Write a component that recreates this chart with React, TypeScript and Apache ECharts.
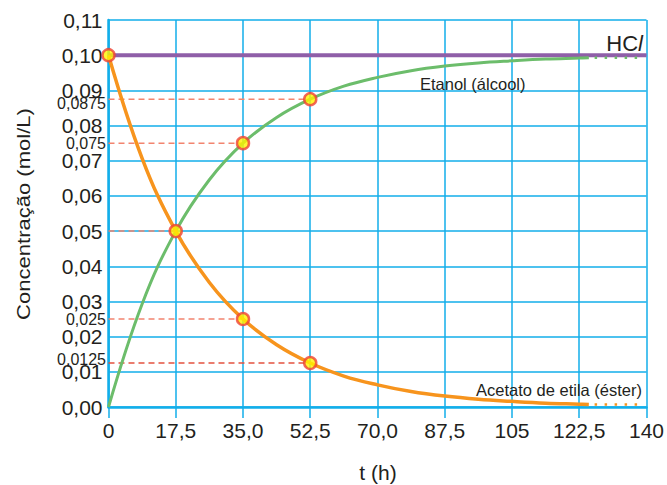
import React, { useEffect, useRef } from "react";
import * as echarts from "echarts";

// ---- data ----
const tHours = [0, 8.75, 17.5, 26.25, 35, 43.75, 52.5, 61.25, 70, 78.75, 87.5, 96.25, 105, 113.75, 122.5, 125];
const esterConc = [0.1, 0.0707, 0.05, 0.0354, 0.025, 0.0177, 0.0125, 0.0088, 0.0063, 0.0044, 0.0031, 0.0022, 0.0016, 0.0011, 0.0008, 0.0007];
const ethanolConc = [0, 0.0293, 0.05, 0.0646, 0.075, 0.0823, 0.0875, 0.0912, 0.0937, 0.0956, 0.0969, 0.0978, 0.0984, 0.0989, 0.0992, 0.0993];
const hclT = [0, 140];
const hclConc = [0.1, 0.1];
const tailT = [126.5, 138];
const esterTail = [0.0007, 0.0007];
const ethanolTail = [0.0993, 0.0993];
const markedT = [0, 17.5, 35, 52.5, 35, 52.5];
const markedC = [0.1, 0.05, 0.075, 0.0875, 0.025, 0.0125];
const guideT = [17.5, 35, 52.5, 35, 52.5];
const guideC = [0.05, 0.075, 0.0875, 0.025, 0.0125];
const xTickLabels = ["0", "17,5", "35,0", "52,5", "70,0", "87,5", "105", "122,5", "140"];
const yTickLabels = ["0,00", "0,01", "0,02", "0,03", "0,04", "0,05", "0,06", "0,07", "0,08", "0,09", "0,10", "0,11"];
const extraYValues = [0.0125, 0.025, 0.075, 0.0875];
const extraYLabels = ["0,0125", "0,025", "0,075", "0,0875"];

const FONT = "'Liberation Sans', Arial, Helvetica, sans-serif";
const TXT = "#231f20";
const CYAN = "#12aeea";
// vertical nudge (px) of the small labels, as in the reference
const extraYNudge = [-4, 0, 0, 4];

export default function App() {
  const ref = useRef<HTMLDivElement>(null);
  useEffect(() => {
    document.body.style.margin = "0";
    const chart = echarts.init(ref.current!, null, { renderer: "svg" });
    const pair = (xs: number[], ys: number[]) => xs.map((x, i) => [x, ys[i]]);
    const baseGraphic: any[] = [
      {
        type: "text",
        x: 643,
        y: 43,
        z: 20,
        style: {
          text: "{a|HC}{b|l}",
          align: "right",
          verticalAlign: "middle",
          rich: {
            a: { fontSize: 22, fontFamily: FONT, fill: TXT },
            b: { fontSize: 22, fontFamily: FONT, fontStyle: "italic", fill: TXT },
          },
        },
      },
      { type: "text", x: 420, y: 84, z: 20, style: { text: "Etanol (álcool)", fontSize: 16.5, fontFamily: FONT, fill: TXT, align: "left", verticalAlign: "middle" } },
      { type: "text", x: 642, y: 390, z: 20, style: { text: "Acetato de etila (éster)", fontSize: 16.5, fontFamily: FONT, fill: TXT, align: "right", verticalAlign: "middle" } },
      { type: "text", x: 23, y: 214, z: 20, rotation: Math.PI / 2, scaleX: 1.16, style: { text: "Concentração (mol/L)", fontSize: 19, fontFamily: FONT, fill: TXT, align: "center", verticalAlign: "middle" } },
      { type: "text", x: 378, y: 472, z: 20, style: { text: "t (h)", fontSize: 21, fontFamily: FONT, fill: TXT, align: "center", verticalAlign: "middle" } },
    ];
    const option: any = {
      animation: false,
      backgroundColor: "#ffffff",
      grid: { left: 108.5, right: 19.5, top: 20, bottom: 78, containLabel: false },
      xAxis: {
        type: "value",
        min: 0,
        max: 140,
        interval: 17.5,
        axisLine: { show: true, lineStyle: { color: CYAN, width: 2.5 } },
        axisTick: { show: true, inside: false, length: 11, lineStyle: { color: CYAN, width: 1.5 } },
        splitLine: { show: true, lineStyle: { color: CYAN, width: 1.5 } },
        axisLabel: {
          showMinLabel: true,
          showMaxLabel: true,
          margin: 15,
          fontSize: 21,
          lineHeight: 16,
          fontFamily: FONT,
          color: TXT,
          formatter: (v: number) => xTickLabels[Math.round(v / 17.5)] ?? "",
        },
      },
      yAxis: {
        type: "value",
        min: 0,
        max: 0.11,
        interval: 0.01,
        axisLine: { show: true, lineStyle: { color: CYAN, width: 2.5 } },
        axisTick: { show: false },
        splitLine: { show: true, lineStyle: { color: CYAN, width: 1.5 } },
        axisLabel: {
          showMinLabel: true,
          showMaxLabel: true,
          margin: 6,
          fontSize: 21,
          lineHeight: 15,
          fontFamily: FONT,
          color: TXT,
          formatter: (v: number) => yTickLabels[Math.round(v / 0.01)] ?? "",
        },
      },
      series: [
        ...guideT.map((t, i) => ({
          type: "line",
          data: [[0, guideC[i]], [t, guideC[i]]],
          symbol: "none",
          lineStyle: { color: i === 4 ? "#e4513f" : "#f2846f", width: 1.5, type: [6, 4] },
          z: 3,
          silent: true,
        })),
        {
          type: "line",
          data: pair(hclT, hclConc),
          symbol: "none",
          lineStyle: { color: "#8f5fa8", width: 4 },
          z: 4,
        },
        {
          type: "line",
          data: pair(tHours, ethanolConc),
          smooth: 0.4,
          symbol: "none",
          lineStyle: { color: "#6cbd6b", width: 3 },
          z: 5,
        },
        {
          type: "line",
          data: pair(tailT, ethanolTail),
          symbol: "none",
          lineStyle: { color: "#6cbd6b", width: 2.5, type: [2.5, 7.5] },
          z: 5,
        },
        {
          type: "line",
          data: pair(tHours, esterConc),
          smooth: 0.4,
          symbol: "none",
          lineStyle: { color: "#f7941d", width: 3.5 },
          z: 5,
        },
        {
          type: "line",
          data: pair(tailT, esterTail),
          symbol: "none",
          lineStyle: { color: "#f7941d", width: 2.5, type: [2.5, 7.5] },
          z: 5,
        },
        {
          type: "scatter",
          data: pair(markedT, markedC),
          symbol: "circle",
          symbolSize: 12,
          clip: false,
          itemStyle: { color: "#fff200", borderColor: "#ef4136", borderWidth: 2.5 },
          z: 10,
        },
      ],
      graphic: baseGraphic,
    };
    chart.setOption(option);

    // small extra tick labels placed through the axis scale
    const x0 = chart.convertToPixel({ xAxisIndex: 0 }, 0) as number;
    const smallLabels = extraYValues.map((v, i) => ({
      type: "text",
      z: 20,
      x: x0 - 2.5,
      y: (chart.convertToPixel({ yAxisIndex: 0 }, v) as number) + extraYNudge[i],
      style: {
        text: extraYLabels[i],
        fontSize: 16,
        lineHeight: 12,
        fontFamily: FONT,
        fill: TXT,
        align: "right",
        verticalAlign: "middle",
      },
    }));
    chart.setOption({ graphic: [...baseGraphic, ...smallLabels] });
    return () => chart.dispose();
  }, []);
  return <div ref={ref} style={{ width: 667, height: 485 }} />;
}
